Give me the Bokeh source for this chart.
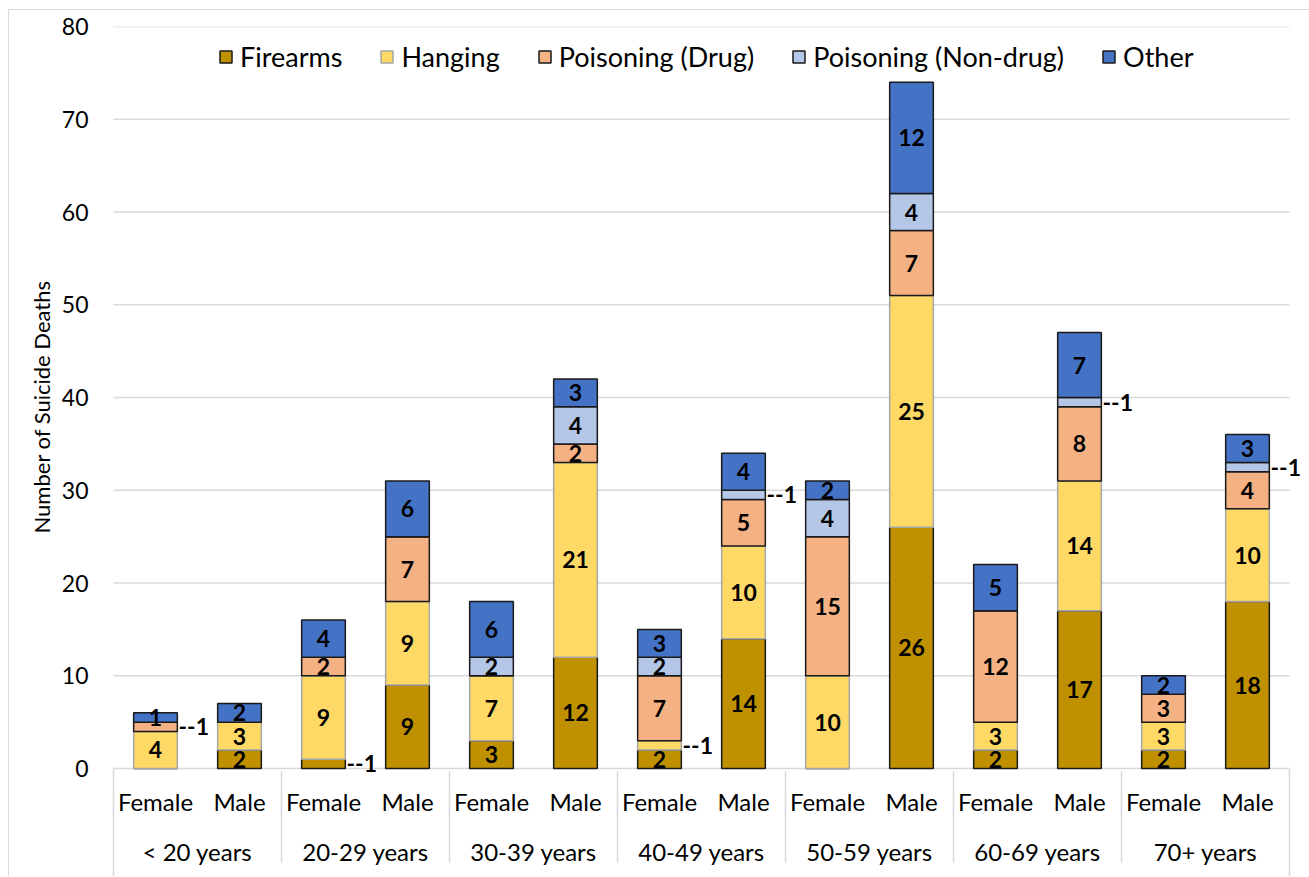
from bokeh.plotting import figure
from bokeh.models import (FactorRange, Range1d, Legend, LegendItem, ColumnDataSource,
                          FixedTicker, Title)
from bokeh.embed import file_html
from bokeh.resources import INLINE
from bokeh.core.properties import value

age_groups = ["< 20 years", "20-29 years", "30-39 years", "40-49 years",
              "50-59 years", "60-69 years", "70+ years"]
sexes = ["Female", "Male"]
series = ["Firearms", "Hanging", "Poisoning (Drug)", "Poisoning (Non-drug)", "Other"]
# bar order: (<20,F), (<20,M), (20-29,F), (20-29,M), ...
firearms = [0, 2, 1, 9, 3, 12, 2, 14, 0, 26, 2, 17, 2, 18]
hanging = [4, 3, 9, 9, 7, 21, 1, 10, 10, 25, 3, 14, 3, 10]
drug = [1, 0, 2, 7, 0, 2, 7, 5, 15, 7, 12, 8, 3, 4]
nondrug = [0, 0, 0, 0, 2, 4, 2, 1, 4, 4, 0, 1, 0, 1]
other = [1, 2, 4, 6, 6, 3, 3, 4, 2, 12, 5, 7, 2, 3]
y_ticks = [0, 10, 20, 30, 40, 50, 60, 70, 80]
y_label = "Number of Suicide Deaths"
# segments whose value is written beside the bar as "--1": (series index, bar index)
callouts = [(2, 0), (0, 2), (1, 6), (3, 7), (3, 11), (3, 13)]

colors = ["#BF9000", "#FFD966", "#F4B183", "#B4C7E7", "#4472C4"]
outlines = ["#1a1a1a", "#a6a6a6", "#1a1a1a", "#1a1a1a", "#1a1a1a"]

FONT = "Lato"
GRID = "#d9d9d9"

# layout: 84 px per bar slot, 742 px for the 0..80 value span
FRAME_W, FRAME_H = 1216, 850
PAD = 0.238                      # factor units of empty room left/right of the bars
Y_MAX = y_ticks[-1]
Y_MIN = -(FRAME_H - 742) / (742 / Y_MAX)   # room below zero for the category labels

factors = [(a, s) for a in age_groups for s in sexes]
values = [firearms, hanging, drug, nondrug, other]
data = {"x": factors}
for name, vals in zip(series, values):
    data[name] = vals
source = ColumnDataSource(data)

p = figure(x_range=FactorRange(*factors, factor_padding=0, group_padding=0,
                               range_padding=PAD, range_padding_units="absolute"),
           y_range=Range1d(Y_MIN, Y_MAX),
           frame_width=FRAME_W, frame_height=FRAME_H,
           min_border_left=84, min_border_right=0, min_border_top=16,
           min_border_bottom=0,
           output_backend="svg", toolbar_location=None,
           styles={"margin-left": "8px", "margin-top": "9px",
                   "border-top": "1px solid " + GRID, "border-left": "1px solid " + GRID})

n = len(factors)
# horizontal gridlines across the bar area only
p.segment(x0=[0] * len(y_ticks), x1=[n] * len(y_ticks), y0=y_ticks, y1=y_ticks,
          line_color=GRID, line_width=1.5)
# outer separators of the category axis
p.segment(x0=[0, n], x1=[0, n], y0=[0, 0], y1=[Y_MIN, Y_MIN],
          line_color=GRID, line_width=1.5)

renderers = p.vbar_stack(series, x="x", width=0.52, source=source,
                         fill_color=colors, line_color=outlines, line_width=1.5)

# segment labels
in_x, in_y, in_t = [], [], []
out_x, out_y, out_t = [], [], []
for i in range(n):
    base = 0
    for k, vals in enumerate(values):
        v = vals[i]
        if v > 0:
            mid = base + v / 2
            if (k, i) in callouts:
                out_x.append(factors[i]); out_y.append(mid); out_t.append("--" + str(v))
            else:
                in_x.append(factors[i]); in_y.append(mid); in_t.append(str(v))
        base += v

p.text(x=in_x, y=in_y, text=in_t, text_align="center", text_baseline="middle",
       text_font=value(FONT), text_font_size="23px", text_font_style="bold",
       text_color="black")
p.text(x=out_x, y=out_y, text=out_t, text_align="left", text_baseline="middle",
       x_offset=23, text_font=value(FONT), text_font_size="23px",
       text_font_style="bold", text_color="black")

legend = Legend(items=[LegendItem(label=s, renderers=[r]) for s, r in zip(series, renderers)],
                orientation="horizontal", location=(125, 803),
                glyph_width=15, glyph_height=15, label_standoff=7, spacing=37,
                padding=0, margin=0,
                label_text_font=FONT, label_text_font_size="27px",
                label_text_color="black",
                border_line_color=None, background_fill_alpha=0)
p.add_layout(legend, "center")

# axes
p.yaxis.ticker = FixedTicker(ticks=y_ticks)
p.yaxis.bounds = (0, Y_MAX)
p.yaxis.axis_line_color = None
p.yaxis.major_tick_line_color = None
p.yaxis.minor_tick_line_color = None
p.yaxis.major_tick_out = 0
p.yaxis.major_label_standoff = 5
p.yaxis.major_label_text_font = FONT
p.yaxis.major_label_text_font_size = "23px"
p.yaxis.major_label_text_color = "black"

# y axis title, placed along the 0..80 span rather than the whole frame
p.add_layout(Title(text=y_label, align="left", offset=343, standoff=7,
                   text_font=FONT, text_font_size="22px", text_font_style="normal",
                   text_color="black"), "left")

xa = p.xaxis[0]
xa.fixed_location = 0
xa.axis_line_color = None
xa.major_tick_line_color = None
xa.major_tick_out = 0
xa.major_label_standoff = 18
xa.major_label_text_font = FONT
xa.major_label_text_font_size = "24px"
xa.major_label_text_color = "black"
xa.group_text_font = FONT
xa.group_text_font_size = "24px"
xa.group_text_font_style = "normal"
xa.group_text_color = "black"
xa.separator_line_color = GRID
xa.separator_line_width = 1.5

p.xgrid.grid_line_color = None
p.ygrid.grid_line_color = None
p.outline_line_color = None

open("out.html", "w").write(file_html(p, INLINE))
